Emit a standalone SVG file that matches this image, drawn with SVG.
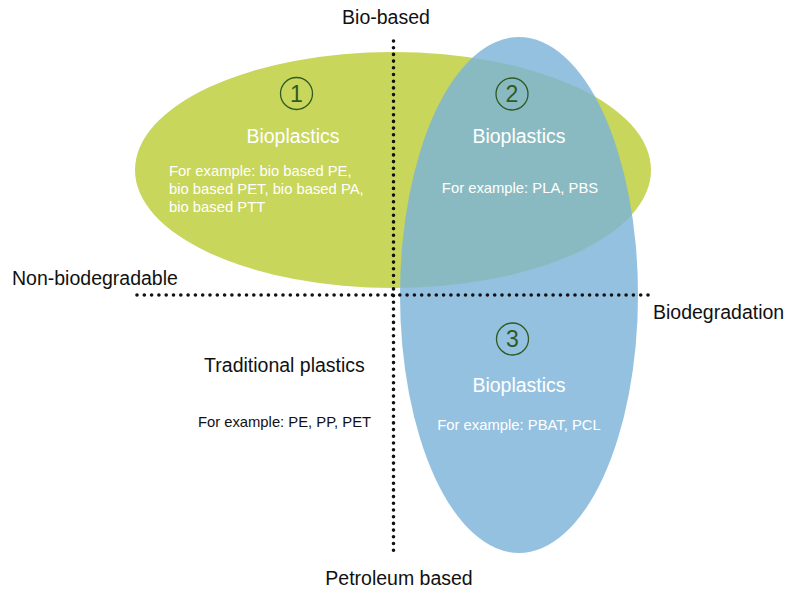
<svg xmlns="http://www.w3.org/2000/svg" width="800" height="599" viewBox="0 0 800 599">
<style>
text{font-family:"Liberation Sans",Arial,sans-serif}
.axis{font-size:19.5px;fill:#111}
.title{font-size:19.5px;fill:#ffffff;text-anchor:middle}
.ex{font-size:14.8px;fill:#ffffff}
.num{font-size:23px;fill:#2f5a22;text-anchor:middle}
.ring{fill:none;stroke:#2f5a22;stroke-width:1.3}
.dots{stroke:#111;stroke-width:3.6;stroke-linecap:round;fill:none}
</style>
<rect width="800" height="599" fill="#ffffff"/>
<g id="region1">
<ellipse cx="393" cy="170" rx="258" ry="118" fill="#c8d65c"/>
</g>
<g id="region3">
<ellipse cx="519" cy="295" rx="119" ry="258" fill="rgb(125,179,216)" fill-opacity="0.82"/>
</g>
<g id="connectors">
<line class="dots" x1="393.5" y1="41" x2="393.5" y2="552" stroke-dasharray="0 6.7"/>
<line class="dots" x1="137" y1="295" x2="650" y2="295" stroke-dasharray="0 7.3"/>
</g>
<g id="node1">
<circle class="ring" cx="296.5" cy="93.5" r="16"/>
<text class="num" x="296.5" y="101.5">1</text>
<text class="title" x="293" y="143">Bioplastics</text>
<text class="ex" x="169" y="176">For example: bio based PE,</text>
<text class="ex" x="169" y="194">bio based PET, bio based PA,</text>
<text class="ex" x="169" y="212">bio based PTT</text>
</g>
<g id="node2">
<circle class="ring" cx="512" cy="94" r="16"/>
<text class="num" x="512" y="102">2</text>
<text class="title" x="519" y="143">Bioplastics</text>
<text class="ex" x="520" y="193" text-anchor="middle">For example: PLA, PBS</text>
</g>
<g id="node3">
<circle class="ring" cx="512.5" cy="339" r="16"/>
<text class="num" x="512.5" y="347">3</text>
<text class="title" x="519" y="392">Bioplastics</text>
<text class="ex" x="519" y="430" text-anchor="middle">For example: PBAT, PCL</text>
</g>
<g id="node4">
<text class="axis" x="284.5" y="372" text-anchor="middle">Traditional plastics</text>
<text class="ex" x="284.5" y="427" text-anchor="middle" style="fill:#111">For example: PE, PP, PET</text>
</g>
<g id="axis-labels">
<text class="axis" x="386" y="24" text-anchor="middle">Bio-based</text>
<text class="axis" x="12" y="285">Non-biodegradable</text>
<text class="axis" x="653" y="319">Biodegradation</text>
<text class="axis" x="399" y="585" text-anchor="middle">Petroleum based</text>
</g>
</svg>
